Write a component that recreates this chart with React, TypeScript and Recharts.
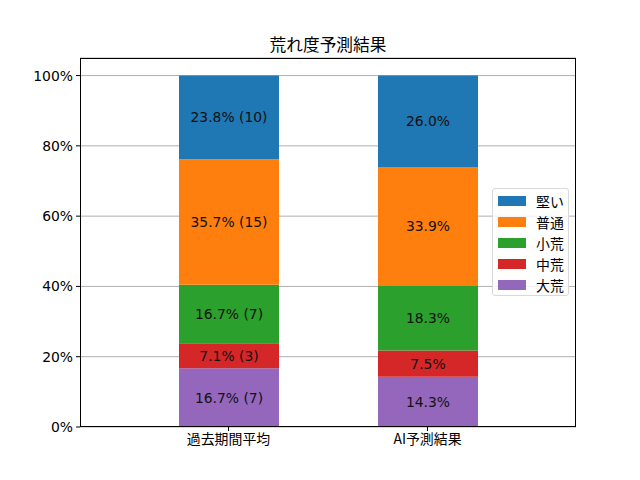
import React from "react";
import {
  BarChart,
  Bar,
  XAxis,
  YAxis,
  CartesianGrid,
  LabelList,
} from "recharts";

const categories = ["過去期間平均", "AI予測結果"];
const seriesNames = ["堅い", "普通", "小荒", "中荒", "大荒"];
const seriesColors = ["#1f77b4", "#ff7f0e", "#2ca02c", "#d62728", "#9467bd"];

// percent per category (past average, AI prediction)
const kataiValues = [23.8, 26.0];
const futsuValues = [35.7, 33.9];
const shoareValues = [16.7, 18.3];
const chuareValues = [7.1, 7.5];
const daiareValues = [16.7, 14.3];

// race counts (only known for the past period)
const kataiCounts = [10, null];
const futsuCounts = [15, null];
const shoareCounts = [7, null];
const chuareCounts = [3, null];
const daiareCounts = [7, null];

const yTicks = [0, 20, 40, 60, 80, 100];

const keys = ["katai", "futsu", "shoare", "chuare", "daiare"];
const valueLists = [kataiValues, futsuValues, shoareValues, chuareValues, daiareValues];
const countLists = [kataiCounts, futsuCounts, shoareCounts, chuareCounts, daiareCounts];

const fmt = (v: number, c: number | null) =>
  c == null ? `${v.toFixed(1)}%` : `${v.toFixed(1)}% (${c})`;

const chartData = categories.map((name, i) => {
  const row: any = { name };
  keys.forEach((k, s) => {
    row[k] = valueLists[s][i];
    row[k + "_label"] = fmt(valueLists[s][i], countLists[s][i]);
  });
  return row;
});

const FONT = "'DejaVu Sans', 'Noto Sans CJK JP', sans-serif";
const JP_FONT = "'Noto Sans CJK JP', 'DejaVu Sans', sans-serif";

// stack order bottom -> top
const stackOrder = [4, 3, 2, 1, 0];

export default function App() {
  return (
    <div
      style={{
        position: "fixed",
        left: 0,
        top: 0,
        width: 640,
        height: 480,
        background: "#fff",
        fontFamily: FONT,
      }}
    >
      <div
        style={{
          position: "absolute",
          left: 80,
          width: 496,
          top: 33,
          textAlign: "center",
          fontSize: 16.7,
          fontFamily: JP_FONT,
          lineHeight: "22px",
          color: "#000",
        }}
      >
        荒れ度予測結果
      </div>

      <BarChart
        width={640}
        height={480}
        data={chartData}
        margin={{ top: 58, right: 64, bottom: 23, left: 20 }}
        barSize={100}
      >
        <CartesianGrid vertical={false} stroke="#b0b0b0" strokeWidth={1} />
        <XAxis
          dataKey="name"
          padding={{ left: 49, right: 49 }}
          height={30}
          tickSize={4}
          tickMargin={3}
          axisLine={false}
          tickLine={{ stroke: "#000" }}
          tick={{ fill: "#000", fontSize: 13.9, fontFamily: JP_FONT }}
        />
        <YAxis
          domain={[0, 105]}
          ticks={yTicks}
          width={60}
          tickSize={4}
          tickMargin={3}
          axisLine={false}
          tickLine={{ stroke: "#000" }}
          tickFormatter={(v) => `${v}%`}
          tick={{ fill: "#000", fontSize: 13.9, fontFamily: FONT }}
          allowDataOverflow
        />
        {stackOrder.map((s) => (
          <Bar
            key={keys[s]}
            dataKey={keys[s]}
            stackId="a"
            fill={seriesColors[s]}
            isAnimationActive={false}
          >
            <LabelList
              dataKey={keys[s] + "_label"}
              position="center"
              fill="#111"
              fontSize={13.9}
              fontFamily={FONT}
            />
          </Bar>
        ))}
      </BarChart>

      {/* axes frame */}
      <div
        style={{
          position: "absolute",
          left: 79.5,
          top: 57.5,
          width: 496,
          height: 369,
          border: "1px solid #000",
          boxSizing: "border-box",
          pointerEvents: "none",
        }}
      />

      {/* legend */}
      <div
        style={{
          position: "absolute",
          left: 492,
          top: 188,
          width: 77,
          height: 108,
          border: "1px solid #d9d9d9",
          borderRadius: 3,
          background: "rgba(255,255,255,0.8)",
          boxSizing: "border-box",
          paddingTop: 1,
        }}
      >
        {seriesNames.map((n, i) => (
          <div
            key={n}
            style={{
              display: "flex",
              alignItems: "center",
              height: 21.2,
              paddingLeft: 5,
            }}
          >
            <span
              style={{
                display: "inline-block",
                width: 28,
                height: 10,
                background: seriesColors[i],
                marginRight: 10,
              }}
            />
            <span
              style={{
                fontSize: 13.9,
                fontFamily: JP_FONT,
                color: "#000",
                lineHeight: "16px",
              }}
            >
              {n}
            </span>
          </div>
        ))}
      </div>
    </div>
  );
}
